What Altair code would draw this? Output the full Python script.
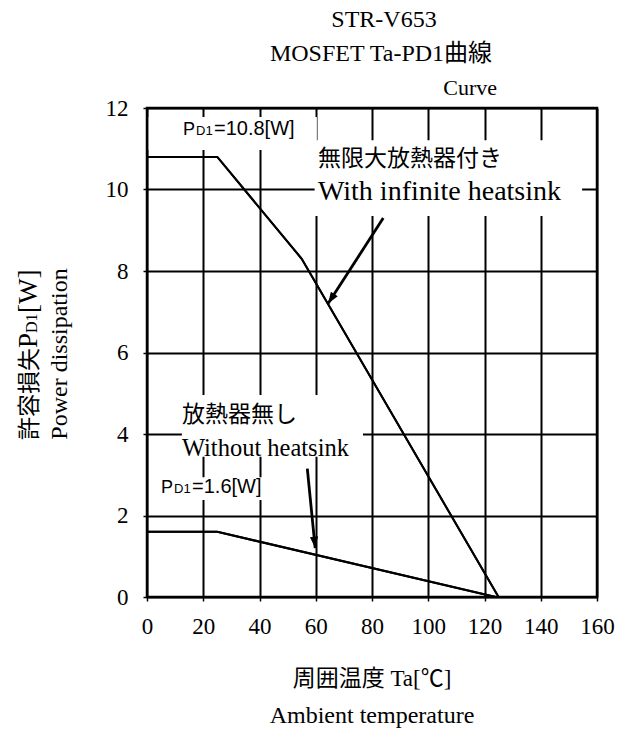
import math
import altair as alt
import pandas as pd

# ---------------- data ----------------
ta_inf = [0, 25, 55, 125]
pd_inf = [10.8, 10.8, 8.3, 0.0]
ta_none = [0, 25, 124]
pd_none = [1.6, 1.6, 0.0]

x_ticks = [0, 20, 40, 60, 80, 100, 120, 140, 160]
y_ticks = [0, 2, 4, 6, 8, 10, 12]

rated_val = ["=10.8[W]", "=1.6[W]"]
rated_x = [12.8, 5.0]
rated_y = [11.34, 2.55]

note_jp = ["無限大放熱器付き", "放熱器無し"]
note_jp_x = [60.8, 12.4]
note_jp_y = [10.58, 4.29]
note_en_inf = ["With infinite heatsink"]
note_en_inf_x = [60.8]
note_en_inf_y = [9.74]
note_en_none = ["Without heatsink"]
note_en_none_x = [12.4]
note_en_none_y = [3.46]

arrow_x0 = [84.0, 57.0]
arrow_y0 = [9.3, 3.15]
arrow_x1 = [64.4, 59.8]
arrow_y1 = [7.2, 1.2]

box_x1 = [0.6, 59.6, 12.4, 2.8]
box_x2 = [60.4, 154.7, 76.8, 42.7]
box_y1 = [10.97, 9.35, 3.44, 2.38]
box_y2 = [11.78, 11.21, 4.96, 2.94]

# ---------------- layout ----------------
W, H = 450, 489
SX, SY = W / 160.0, H / 12.0
SERIF = "Liberation Serif"
SANS = "Liberation Sans"
CJK = "Noto Sans CJK JP"
MIX = "Liberation Serif, Noto Sans CJK JP"

xs = alt.Scale(domain=[0, 160], nice=False, zero=False)
ys = alt.Scale(domain=[0, 12], nice=False, zero=False)

curves = pd.DataFrame({
    "ta": ta_inf + ta_none,
    "pd": pd_inf + pd_none,
    "s": ["inf"] * len(ta_inf) + ["none"] * len(ta_none),
})

base_axis = dict(
    grid=True, gridColor="black", gridWidth=2, gridOpacity=1,
    domain=False, ticks=True, tickColor="black", tickSize=4, tickWidth=1.5,
    labelFont=SERIF, labelFontSize=23, labelColor="black",
    labelFlush=False, labelOverlap=False, title=None,
)

lines = alt.Chart(curves).mark_line(color="black", strokeWidth=2).encode(
    x=alt.X("ta:Q", scale=xs, axis=alt.Axis(values=x_ticks, labelPadding=14, **base_axis)),
    y=alt.Y("pd:Q", scale=ys, axis=alt.Axis(values=y_ticks, labelPadding=15, **base_axis)),
    detail="s:N",
)

boxes = alt.Chart(pd.DataFrame({"x1": box_x1, "x2": box_x2, "y1": box_y1, "y2": box_y2})).mark_rect(
    fill="white", stroke=None, opacity=1
).encode(x=alt.X("x1:Q", scale=xs), x2="x2:Q", y=alt.Y("y1:Q", scale=ys), y2="y2:Q")

angs = []
for a, b, c, d in zip(arrow_x0, arrow_y0, arrow_x1, arrow_y1):
    dxp = (c - a) * SX
    dyp = -(d - b) * SY
    angs.append(math.degrees(math.atan2(dxp, -dyp)) % 360)
arr_df = pd.DataFrame({"x0": arrow_x0, "y0": arrow_y0, "x1": arrow_x1, "y1": arrow_y1, "ang": angs})

shafts = alt.Chart(arr_df).mark_rule(color="black", strokeWidth=2.8).encode(
    x=alt.X("x0:Q", scale=xs), y=alt.Y("y0:Q", scale=ys), x2="x1:Q", y2="y1:Q"
)
heads = alt.Chart(arr_df).mark_point(
    shape="M0,0L-0.36,1L0.36,1Z", filled=True, color="black", opacity=1, size=520, strokeWidth=0
).encode(
    x=alt.X("x1:Q", scale=xs), y=alt.Y("y1:Q", scale=ys), angle=alt.Angle("ang:Q", scale=None)
)

rated_df = pd.DataFrame({"x": rated_x, "y": rated_y, "v": rated_val, "p": ["P"] * 2, "d": ["D1"] * 2})
def rated(field, size, dx):
    return alt.Chart(rated_df).mark_text(
        font=SANS, fontSize=size, align="left", baseline="alphabetic", color="black", dx=dx
    ).encode(x=alt.X("x:Q", scale=xs), y=alt.Y("y:Q", scale=ys), text=f"{field}:N")
rated_layers = [rated("p", 18, 0), rated("d", 13, 13), rated("v", 20, 31)]

def notes(texts, xv, yv, font, size):
    return alt.Chart(pd.DataFrame({"x": xv, "y": yv, "t": texts})).mark_text(
        font=font, fontSize=size, align="left", baseline="alphabetic", color="black"
    ).encode(x=alt.X("x:Q", scale=xs), y=alt.Y("y:Q", scale=ys), text="t:N")

note_layers = [
    notes(note_jp, note_jp_x, note_jp_y, CJK, 23),
    notes(note_en_inf, note_en_inf_x, note_en_inf_y, SERIF, 28),
    notes(note_en_none, note_en_none_x, note_en_none_y, SERIF, 24.5),
]

def label(text, x, y, font, size, align="center", angle=0):
    kw = dict(font=font, fontSize=size, align=align, baseline="alphabetic", color="black")
    if angle:
        kw["angle"] = angle
    return alt.Chart(pd.DataFrame({"t": [text]})).mark_text(**kw).encode(
        text="t:N", x=alt.value(x), y=alt.value(y)
    )

titles = [
    label("STR-V653", 237, -81, SERIF, 24),
    label("MOSFET Ta-PD1曲線", 234, -47, MIX, 24),
    label("Curve", 350, -13, SERIF, 22, align="right"),
    label("周囲温度 Ta[℃]", 225, 578, MIX, 23),
    label("Ambient temperature", 225, 615, SERIF, 24),
    label("許容損失", -110, 332, CJK, 23, align="left", angle=270),
    label("P", -110, 240, SERIF, 27, align="left", angle=270),
    label("D1", -110, 225, SERIF, 16, align="left", angle=270),
    label("[W]", -110, 205, SERIF, 27, align="left", angle=270),
    label("Power dissipation", -80, 246, SERIF, 24, align="center", angle=270),
]

chart = alt.layer(
    lines, boxes, lines, shafts, heads, *rated_layers, *note_layers, *titles
).properties(
    width=W, height=H,
    autosize=alt.AutoSizeParams(type="none"),
    padding={"left": 147, "top": 108, "right": 29, "bottom": 143},
    background="white",
).configure_view(stroke="black", strokeWidth=2.5)

chart.save("out.html", embed_options={"renderer": "svg", "actions": False})
